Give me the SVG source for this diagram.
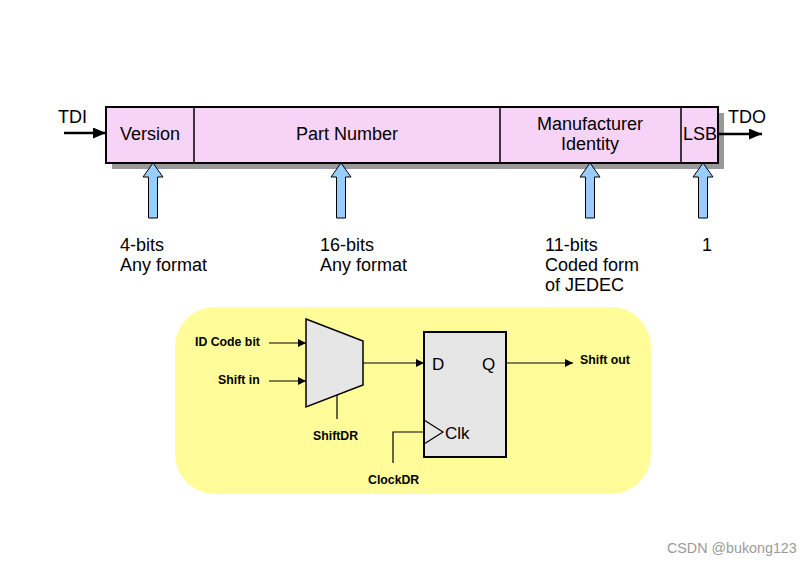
<svg xmlns="http://www.w3.org/2000/svg" width="812" height="563" viewBox="0 0 812 563">
<defs>
<style>
.t{font-family:"Liberation Sans",Arial,sans-serif;font-size:18px;fill:#000}
.b{font-family:"Liberation Sans",Arial,sans-serif;font-size:12.3px;font-weight:bold;fill:#000}
.s{font-family:"Liberation Sans",Arial,sans-serif;font-size:17px;fill:#000}
.up{fill:#99CCFF;stroke:#000;stroke-width:1}
.ln{stroke:#000;stroke-width:1.2;fill:none}
.gate{fill:#E6E6E6;stroke:#000;stroke-width:1.5}
</style>
<marker id="ah" viewBox="0 0 10 10" refX="10" refY="5" markerWidth="8" markerHeight="8" markerUnits="userSpaceOnUse" orient="auto">
<path d="M0,0 L10,5 L0,10 Z" fill="#000"/>
</marker>
<marker id="ahb" viewBox="0 0 10 10" refX="10" refY="5" markerWidth="13" markerHeight="11" markerUnits="userSpaceOnUse" orient="auto" preserveAspectRatio="none">
<path d="M0,0 L10,5 L0,10 Z" fill="#000"/>
</marker>
</defs>
<rect width="812" height="563" fill="#fff"/>

<g id="register">
<rect x="112" y="113" width="612" height="56" fill="#999"/>
<rect x="106" y="107" width="612" height="56" fill="#F8D3F8" stroke="#000" stroke-width="2"/>
<line x1="194" y1="107" x2="194" y2="163" stroke="#000" stroke-width="1.5"/>
<line x1="500" y1="107" x2="500" y2="163" stroke="#000" stroke-width="1.5"/>
<line x1="681" y1="107" x2="681" y2="163" stroke="#000" stroke-width="1.5"/>
</g>
<g id="version"><text class="t" x="150" y="140" text-anchor="middle">Version</text></g>
<g id="part-number"><text class="t" x="347" y="140" text-anchor="middle">Part Number</text></g>
<g id="manufacturer"><text class="t" x="590" y="130" text-anchor="middle">Manufacturer</text><text class="t" x="590" y="150" text-anchor="middle">Identity</text></g>
<g id="lsb"><text class="t" x="700" y="140" text-anchor="middle">LSB</text></g>
<g id="tdi"><text class="t" x="58" y="123">TDI</text></g>
<g id="tdo"><text class="t" x="728" y="123">TDO</text></g>

<g id="up-arrows">
<path class="up" d="M153,163 L163,177 L157.5,177 L157.5,218 L148.5,218 L148.5,177 L143,177 Z"/>
<path class="up" d="M341,163 L351,177 L345.5,177 L345.5,218 L336.5,218 L336.5,177 L331,177 Z"/>
<path class="up" d="M590,163 L600,177 L594.5,177 L594.5,218 L585.5,218 L585.5,177 L580,177 Z"/>
<path class="up" d="M703,163 L713,177 L707.5,177 L707.5,218 L698.5,218 L698.5,177 L693,177 Z"/>
</g>

<g id="labels">
<text class="t" x="120" y="251">4-bits</text>
<text class="t" x="120" y="271">Any format</text>
<text class="t" x="320" y="251">16-bits</text>
<text class="t" x="320" y="271">Any format</text>
<text class="t" x="545" y="251">11-bits</text>
<text class="t" x="545" y="271">Coded form</text>
<text class="t" x="545" y="291">of JEDEC</text>
<text class="t" x="702" y="251">1</text>
</g>

<g id="cell-panel">
<rect x="175" y="307" width="476" height="187" rx="40" ry="40" fill="#FFFC99"/>
</g>
<g id="mux">
<path class="gate" d="M306,319 L363,341 L363,385 L306,407 Z"/>
</g>
<g id="flipflop">
<rect x="424" y="332" width="82" height="125" fill="#E6E6E6" stroke="#000" stroke-width="2"/>
<path d="M424,420 L443,432 L424,444" fill="none" stroke="#000" stroke-width="1.2"/>
<text class="s" x="432" y="370">D</text>
<text class="s" x="482" y="370">Q</text>
<text class="s" x="445" y="439">Clk</text>
</g>
<g id="signal-labels">
<text class="b" x="195" y="346">ID Code bit</text>
<text class="b" x="218" y="384">Shift in</text>
<text class="b" x="313" y="440">ShiftDR</text>
<text class="b" x="368" y="484">ClockDR</text>
<text class="b" x="580" y="364">Shift out</text>
</g>

<g id="connectors">
<line x1="64" y1="133" x2="106" y2="133" stroke="#000" stroke-width="2.5" marker-end="url(#ahb)"/>
<line x1="718" y1="134" x2="762" y2="134" stroke="#000" stroke-width="2.5" marker-end="url(#ahb)"/>
<line class="ln" x1="269" y1="343" x2="306" y2="343" marker-end="url(#ah)"/>
<line class="ln" x1="269" y1="381" x2="306" y2="381" stroke-width="2" marker-end="url(#ah)"/>
<line class="ln" x1="337" y1="395" x2="337" y2="419"/>
<line class="ln" x1="363" y1="363" x2="424" y2="363" marker-end="url(#ah)"/>
<line class="ln" x1="506" y1="363" x2="573" y2="363" marker-end="url(#ah)"/>
<path class="ln" d="M393,463 L393,432 L424,432" stroke-width="1.8"/>
</g>

<g id="watermark"><text x="667" y="553" font-family="'Liberation Sans',Arial,sans-serif" font-size="14.3" fill="#9a9a9a">CSDN @bukong123</text></g>
</svg>
